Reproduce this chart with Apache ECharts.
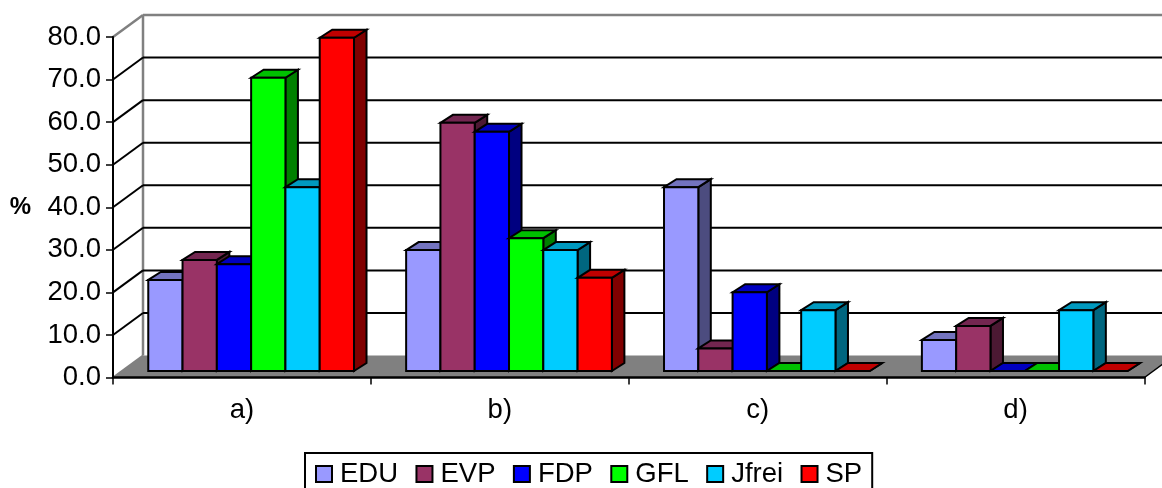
<!DOCTYPE html>
<html>
<head>
<meta charset="utf-8">
<style>html,body{margin:0;padding:0;background:#fff;overflow:hidden}#c{width:1162px;height:488px}</style>
<script src="https://cdn.jsdelivr.net/npm/echarts@6/dist/echarts.min.js"></script>
</head>
<body>
<div id="c"></div>
<script>
const categories = ['a)', 'b)', 'c)', 'd)'];
const valueTicks = [10, 20, 30, 40, 50, 60, 70, 80];
const EDU = [21.4, 28.4, 43.2, 7.3];
const EVP = [26.1, 58.3, 5.3, 10.6];
const FDP = [25.1, 56.2, 18.5, 0];
const GFL = [68.9, 31.2, 0, 0];
const Jfrei = [43.2, 28.4, 14.3, 14.3];
const SP = [78.3, 21.9, 0, 0];

const parties = [
  { name: 'EDU', values: EDU, front: '#9999FF', top: '#7373BF', side: '#4C4C7F' },
  { name: 'EVP', values: EVP, front: '#993366', top: '#732650', side: '#4C1933' },
  { name: 'FDP', values: FDP, front: '#0000FF', top: '#0000C0', side: '#000080' },
  { name: 'GFL', values: GFL, front: '#00FF00', top: '#00C000', side: '#008000' },
  { name: 'Jfrei', values: Jfrei, front: '#00CCFF', top: '#0099BF', side: '#00667F' },
  { name: 'SP', values: SP, front: '#FF0000', top: '#C00000', side: '#800000' }
];

const FONT = '"Liberation Sans", Arial, sans-serif';
const WALL_DX = 30, WALL_DY = 22;      // oblique depth of the floor
const GAP_DX = 9.2, GAP_DY = 6.5;      // bar front plane inset
const BAR_DX = 12.5, BAR_DY = 8;       // bar depth
const BAND_PER_BAR = 7.52;
const MAX = 80;

function poly(points, fill, stroke, lw) {
  return { type: 'polygon', shape: { points }, style: { fill, stroke, lineWidth: lw, lineJoin: 'miter' } };
}
function seg(a, b, stroke, lw) {
  return { type: 'line', shape: { x1: a[0], y1: a[1], x2: b[0], y2: b[1] }, style: { stroke, lineWidth: lw, fill: null } };
}
function extent(api, v) {
  const band = api.size([1, 0])[0];
  const l = api.coord([0, v]), r = api.coord([categories.length - 1, v]);
  return { left: l[0] - band / 2, right: r[0] + band / 2, y: l[1] };
}

function renderFloor(params, api) {
  const e = extent(api, 0), t = extent(api, MAX);
  return { type: 'group', children: [
    poly([[e.left, e.y], [e.left + WALL_DX, e.y - WALL_DY], [e.right + WALL_DX, e.y - WALL_DY], [e.right, e.y]], '#808080', null, 0),
    seg([e.left + WALL_DX, e.y - WALL_DY], [e.left + WALL_DX, t.y - WALL_DY], '#808080', 2.5),
    seg([e.left, e.y], [e.left + WALL_DX, e.y - WALL_DY], '#808080', 2),
    seg([e.right, e.y], [e.right + WALL_DX, e.y - WALL_DY], '#000', 1.5)
  ] };
}
function renderGridline(params, api) {
  const v = api.value(0), e = extent(api, v);
  const col = v === MAX ? '#808080' : '#000', lw = v === MAX ? 2.5 : 2;
  return { type: 'group', children: [
    seg([e.left, e.y], [e.left + WALL_DX, e.y - WALL_DY], col, lw),
    seg([e.left + WALL_DX, e.y - WALL_DY], [e.right + WALL_DX, e.y - WALL_DY], col, lw)
  ] };
}
function barRenderer(idx) {
  const p = parties[idx];
  return function (params, api) {
    const cat = api.value(0), top = api.coord([cat, api.value(1)]), base = api.coord([cat, 0]);
    const w = api.size([1, 0])[0] / BAND_PER_BAR;
    const x0 = base[0] + (idx - parties.length / 2) * w + GAP_DX, x1 = x0 + w;
    const yb = base[1] - GAP_DY, yt = top[1] - GAP_DY;
    return { type: 'group', children: [
      poly([[x1, yb], [x1 + BAR_DX, yb - BAR_DY], [x1 + BAR_DX, yt - BAR_DY], [x1, yt]], p.side, '#000', 2),
      poly([[x0, yt], [x0 + BAR_DX, yt - BAR_DY], [x1 + BAR_DX, yt - BAR_DY], [x1, yt]], p.top, '#000', 2),
      poly([[x0, yb], [x0, yt], [x1, yt], [x1, yb]], p.front, '#000', 2)
    ] };
  };
}

const series = [
  { type: 'custom', name: 'floor', data: [[0]], renderItem: renderFloor, encode: { y: 0 }, z: 1, silent: true },
  { type: 'custom', name: 'gridlines', data: valueTicks.map(v => [v]), renderItem: renderGridline, encode: { y: 0 }, z: 1, silent: true }
].concat(parties.map((p, i) => ({
  type: 'custom',
  name: p.name,
  data: p.values.map((v, c) => [c, v]),
  encode: { x: 0, y: 1 },
  renderItem: barRenderer(i),
  itemStyle: { color: p.front, borderColor: '#000', borderWidth: 2 },
  z: 3 + i
})));

const chart = echarts.init(document.getElementById('c'), null, { renderer: 'canvas' });
chart.setOption({
  animation: false,
  backgroundColor: '#fff',
  textStyle: { fontFamily: FONT },
  grid: { left: 113, right: 17.5, top: 37, bottom: 110.5, containLabel: false, outerBoundsMode: 'none' },
  xAxis: {
    type: 'category',
    data: categories,
    boundaryGap: true,
    z: 10,
    axisLine: { show: true, lineStyle: { color: '#000', width: 2.5 } },
    axisTick: { show: true, alignWithLabel: false, length: 7, lineStyle: { color: '#000', width: 1.5 } },
    axisLabel: { color: '#000', fontSize: 27.5, fontFamily: FONT, margin: 19 },
    splitLine: { show: false }
  },
  yAxis: {
    type: 'value',
    min: 0,
    max: MAX,
    interval: 10,
    z: 10,
    name: '%',
    nameLocation: 'middle',
    nameRotate: 0,
    nameGap: 82,
    nameTextStyle: { color: '#000', fontSize: 24, fontWeight: 'bold', fontFamily: FONT, padding: [3, 0, 0, 0] },
    axisLine: { show: true, lineStyle: { color: '#000', width: 2 } },
    axisTick: { show: true, length: 7, lineStyle: { color: '#000', width: 1.5 } },
    axisLabel: { color: '#000', fontSize: 27.5, fontFamily: FONT, margin: 12, formatter: v => v.toFixed(1) },
    splitLine: { show: false }
  },
  legend: {
    show: true,
    left: 305,
    top: 453,
    orient: 'horizontal',
    padding: [7, 10, 10, 10],
    itemGap: 17.4,
    itemWidth: 16,
    itemHeight: 16,
    borderColor: '#000',
    borderWidth: 2,
    selectedMode: false,
    icon: 'rect',
    data: parties.map(p => ({ name: p.name, icon: 'rect', itemStyle: { color: p.front, borderColor: '#000', borderWidth: 2 } })),
    textStyle: { color: '#000', fontSize: 27.5, fontFamily: FONT, padding: [2, 0, 0, 3] }
  },
  series
});
</script>
</body>
</html>
